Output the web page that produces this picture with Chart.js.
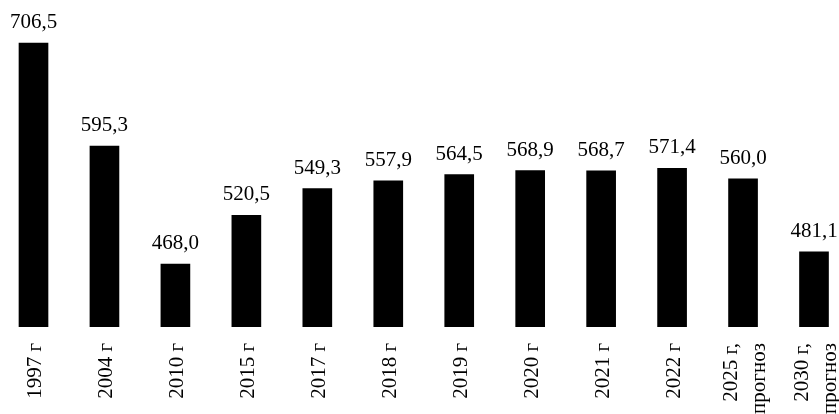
<!DOCTYPE html>
<html>
<head>
<meta charset="utf-8">
<script src="https://cdn.jsdelivr.net/npm/chart.js@4/dist/chart.umd.min.js"></script>
<style>
html,body{margin:0;padding:0;background:#fff;}
#c{display:block;}
</style>
</head>
<body>
<canvas id="c" width="839" height="414"></canvas>
<script>
const categories = ['1997 г', '2004 г', '2010 г', '2015 г', '2017 г', '2018 г', '2019 г', '2020 г', '2021 г', '2022 г', ['2025 г,', 'прогноз'], ['2030 г,', 'прогноз']];
const values = [706.5, 595.3, 468.0, 520.5, 549.3, 557.9, 564.5, 568.9, 568.7, 571.4, 560.0, 481.1];
const yMin = 400;
const yMax = 753;

const FONT = '"Liberation Serif", "Times New Roman", serif';

const valueLabels = {
  id: 'valueLabels',
  afterDatasetsDraw(chart) {
    const ctx = chart.ctx;
    const meta = chart.getDatasetMeta(0);
    ctx.save();
    ctx.font = '21px ' + FONT;
    ctx.fillStyle = '#000';
    ctx.textAlign = 'center';
    ctx.textBaseline = 'alphabetic';
    meta.data.forEach((bar, i) => {
      const txt = values[i].toFixed(1).replace('.', ',');
      ctx.fillText(txt, bar.x, bar.y - 15);
    });
    ctx.restore();
  }
};

// Draws the rotated category labels, centring multi-line labels on their tick
const xLabels = {
  id: 'xLabels',
  afterDraw(chart) {
    const scale = chart.scales.x;
    const ctx = chart.ctx;
    ctx.save();
    ctx.font = '21px ' + FONT;
    ctx.fillStyle = '#000';
    ctx.textAlign = 'right';
    ctx.textBaseline = 'alphabetic';
    const lh = 28;
    scale.ticks.forEach((t, i) => {
      const lab = chart.data.labels[i];
      const lines = Array.isArray(lab) ? lab : [lab];
      const x = scale.getPixelForTick(i);
      ctx.save();
      ctx.translate(x, scale.top + 16);
      ctx.rotate(-Math.PI / 2);
      lines.forEach((ln, j) => {
        ctx.fillText(ln, 0, 7.5 + (j - (lines.length - 1) / 2) * lh);
      });
      ctx.restore();
    });
    ctx.restore();
  }
};

new Chart(document.getElementById('c'), {
  type: 'bar',
  data: {
    labels: categories,
    datasets: [{
      data: values,
      base: yMin,
      backgroundColor: '#000',
      borderWidth: 0,
      barThickness: 29,
      clip: { left: 20, right: 20, top: 0, bottom: 0 }
    }]
  },
  options: {
    responsive: false,
    animation: false,
    layout: { padding: { left: 33.5, right: 25, top: 0, bottom: 0 } },
    plugins: { legend: { display: false }, tooltip: { enabled: false } },
    scales: {
      x: {
        offset: false,
        grid: { display: false, drawTicks: false },
        border: { display: false },
        ticks: { display: false, autoSkip: false },
        afterFit(scale) {
          scale.height = 87;
          scale.paddingLeft = 0;
          scale.paddingRight = 0;
        }
      },
      y: {
        display: false,
        min: yMin,
        max: yMax
      }
    }
  },
  plugins: [valueLabels, xLabels]
});
</script>
</body>
</html>
